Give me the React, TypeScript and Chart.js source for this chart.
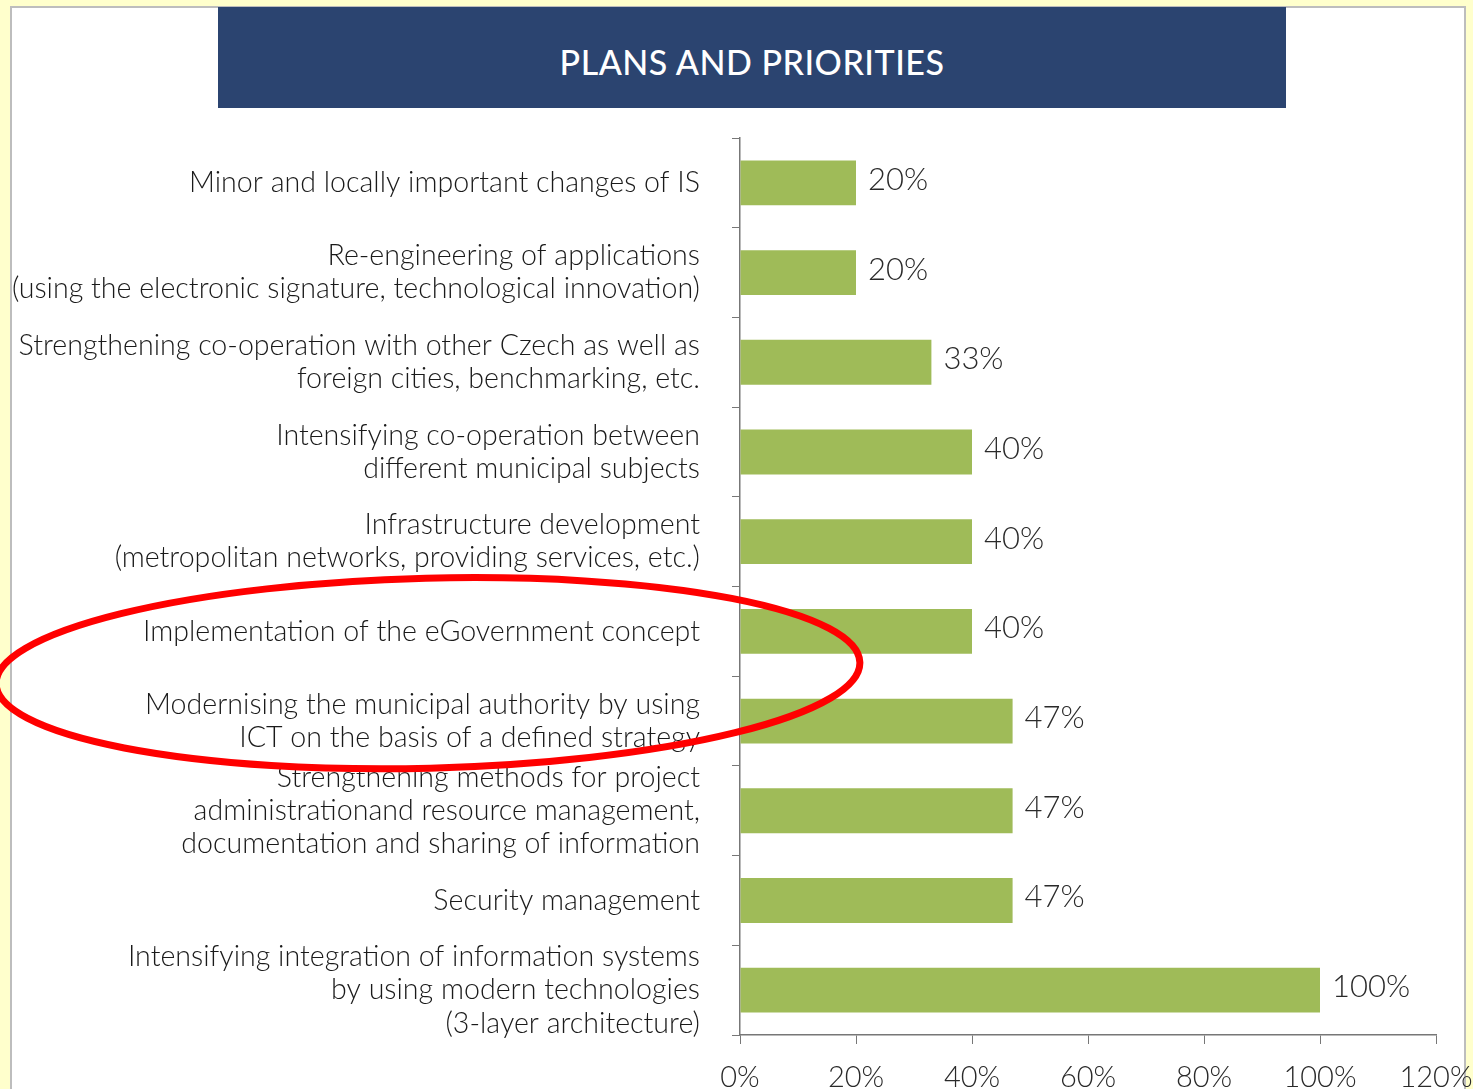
import React, { useEffect, useRef } from "react";
import { Chart, registerables } from "chart.js";

Chart.register(...registerables);

const categories: (string | string[])[] = [
  "Minor and locally important changes of IS",
  ["Re-engineering of applications", "(using the electronic signature, technological innovation)"],
  ["Strengthening co-operation with other Czech as well as", "foreign cities, benchmarking, etc."],
  ["Intensifying co-operation between", "different municipal subjects"],
  ["Infrastructure development", "(metropolitan networks, providing services, etc.)"],
  "Implementation of the eGovernment concept",
  ["Modernising the municipal authority by using", "ICT on the basis of a defined strategy"],
  ["Strengthening methods for project", "administrationand resource management,", "documentation and sharing of information"],
  "Security management",
  ["Intensifying integration of information systems", "by using modern technologies", "(3-layer architecture)"],
];

const values = [20, 20, 33, 40, 40, 40, 47, 47, 47, 100];
const valueLabels = ["20%", "20%", "33%", "40%", "40%", "40%", "47%", "47%", "47%", "100%"];
const xTickMin = 0;
const xTickMax = 120;
const xTickStep = 20;
const title = "PLANS AND PRIORITIES";
const highlightedCategories = [5, 6];

const FONT = "Lato, 'Open Sans', sans-serif";

const valueLabelPlugin = {
  id: "valueLabels",
  afterDatasetsDraw(chart: any) {
    const ctx = chart.ctx;
    const meta = chart.getDatasetMeta(0);
    ctx.save();
    ctx.font = `300 31px ${FONT}`;
    ctx.fillStyle = "#2a2a2a";
    ctx.textAlign = "left";
    ctx.textBaseline = "middle";
    meta.data.forEach((bar: any, i: number) => {
      ctx.fillText(valueLabels[i], bar.x + 12, bar.y - 3);
    });
    ctx.restore();
  },
};

const ellipsePlugin = {
  id: "highlightEllipse",
  afterDraw(chart: any) {
    const ctx = chart.ctx;
    const y = chart.scales.y;
    const top = y.getPixelForValue(highlightedCategories[0]);
    const bottom = y.getPixelForValue(highlightedCategories[highlightedCategories.length - 1]);
    const cy = (top + bottom) / 2 - 3;
    ctx.save();
    ctx.strokeStyle = "#ff0000";
    ctx.lineWidth = 7;
    ctx.beginPath();
    ctx.ellipse(428, cy, 432, 95, -0.025, 0, Math.PI * 2);
    ctx.stroke();
    ctx.restore();
  },
};

export default function App() {
  const ref = useRef<HTMLCanvasElement | null>(null);

  useEffect(() => {
    if (!ref.current) return;
    const chart = new Chart(ref.current, {
      type: "bar",
      data: {
        labels: categories,
        datasets: [
          {
            data: values,
            backgroundColor: "#9fbb58",
            borderWidth: 0,
            barPercentage: 0.5,
            categoryPercentage: 1,
          },
        ],
      },
      options: {
        indexAxis: "y",
        animation: false,
        responsive: false,
        maintainAspectRatio: false,
        layout: { padding: { left: 0, top: 138, right: 37, bottom: 0 } },
        plugins: {
          legend: { display: false },
          tooltip: { enabled: false },
          title: { display: false },
        },
        scales: {
          x: {
            min: xTickMin,
            max: xTickMax,
            ticks: {
              stepSize: xTickStep,
              callback: (v: any) => v + "%",
              font: { family: FONT, size: 29, weight: "300" },
              color: "#2a2a2a",
              padding: 16,
              maxRotation: 0,
            },
            grid: {
              drawOnChartArea: false,
              drawTicks: true,
              tickLength: 9,
              color: "#777",
            },
            border: { display: true, color: "#777", width: 1.5 },
            afterFit: (s: any) => {
              s.height = 54;
              s.paddingLeft = 0;
              s.paddingRight = 0;
            },
          },
          y: {
            ticks: {
              font: { family: FONT, size: 28.6, weight: "300", lineHeight: 1.16 },
              color: "#1a1a1a",
              padding: 32,
              autoSkip: false,
            },
            grid: {
              drawOnChartArea: false,
              drawTicks: true,
              tickLength: 8,
              color: "#777",
            },
            border: { display: true, color: "#777", width: 1.5 },
            afterFit: (s: any) => {
              s.width = 740;
              s.paddingTop = 0;
              s.paddingBottom = 0;
            },
          },
        },
      },
      plugins: [valueLabelPlugin, ellipsePlugin],
    } as any);
    return () => chart.destroy();
  }, []);

  return (
    <div
      style={{
        position: "fixed",
        left: 0,
        top: 0,
        width: 1473,
        height: 1089,
        background: "#ffffcc",
        overflow: "hidden",
      }}
    >
      <div
        style={{
          position: "absolute",
          left: 10,
          top: 6,
          width: 1456,
          height: 1100,
          background: "#ffffff",
          border: "2px solid #bdbdbd",
          boxSizing: "border-box",
        }}
      />
      <div
        style={{
          position: "absolute",
          left: 218,
          top: 7,
          width: 1068,
          height: 101,
          boxSizing: "border-box",
          paddingTop: 8,
          background: "#2b4470",
          color: "#ffffff",
          display: "flex",
          alignItems: "center",
          justifyContent: "center",
          fontFamily: FONT,
          fontSize: 34,
          fontWeight: 500,
          letterSpacing: 0.5,
        }}
      >
        {title}
      </div>
      <canvas
        ref={ref}
        width={1473}
        height={1089}
        style={{ position: "absolute", left: 0, top: 0, width: 1473, height: 1089 }}
      />
    </div>
  );
}
